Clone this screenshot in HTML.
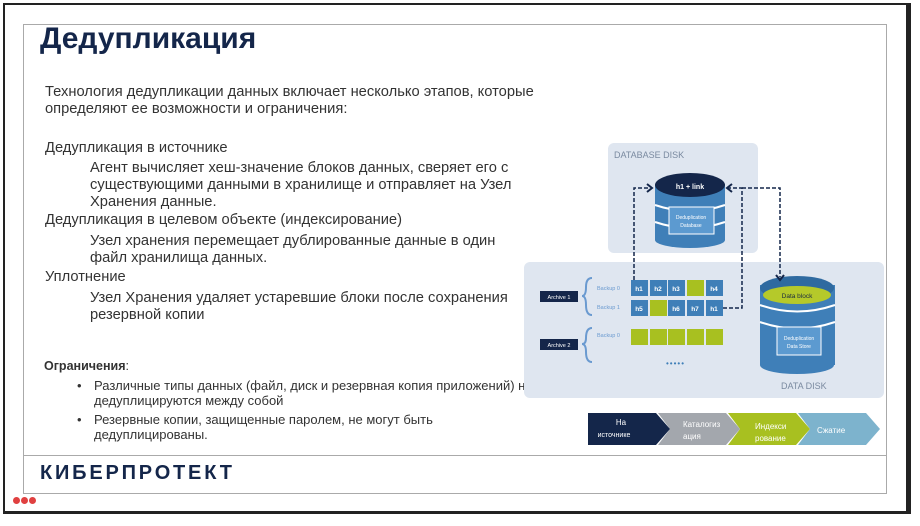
<!DOCTYPE html>
<html><head><meta charset="utf-8"><style>
body{margin:0;background:#fff;width:920px;height:526px;overflow:hidden;position:relative;font-family:"Liberation Sans",Arial,sans-serif;}
.t{position:absolute;white-space:nowrap;color:#333;font-size:14.7px;}
</style></head><body>
<div style="position:absolute;left:3px;top:3px;height:511px;border:2px solid #222;border-right:5px solid #222;border-bottom:3px solid #222;box-sizing:border-box;width:908px;"></div>
<div style="position:absolute;left:23px;top:24px;width:864px;height:470px;border:1px solid #aaa;box-sizing:border-box;"></div>
<div style="position:absolute;left:23px;top:455px;width:864px;height:1px;background:#aaa;"></div>
<div class="t" style="left:40px;top:22px;font-size:30px;font-weight:bold;color:#14264a;">Дедупликация</div>
<div class="t" style="left:45px;top:84px;">Технология дедупликации данных включает несколько этапов, которые</div>
<div class="t" style="left:45px;top:101px;">определяют ее возможности и ограничения:</div>
<div class="t" style="left:45px;top:140px;">Дедупликация в источнике</div>
<div class="t" style="left:90px;top:160px;">Агент вычисляет хеш-значение блоков данных, сверяет его с</div>
<div class="t" style="left:90px;top:177px;">существующими данными в хранилище и отправляет на Узел</div>
<div class="t" style="left:90px;top:194px;">Хранения данные.</div>
<div class="t" style="left:45px;top:212px;">Дедупликация в целевом объекте (индексирование)</div>
<div class="t" style="left:90px;top:233px;">Узел хранения перемещает дублированные данные в один</div>
<div class="t" style="left:90px;top:250px;">файл хранилища данных.</div>
<div class="t" style="left:45px;top:269px;">Уплотнение</div>
<div class="t" style="left:90px;top:290px;">Узел Хранения удаляет устаревшие блоки после сохранения</div>
<div class="t" style="left:90px;top:307px;">резервной копии</div>
<div class="t" style="left:44px;top:359px;font-size:12.5px;"><b>Ограничения</b>:</div>
<div class="t" style="left:77px;top:378px;font-size:13px;">•</div>
<div class="t" style="left:94px;top:378px;font-size:13px;">Различные типы данных (файл, диск и резервная копия приложений) не</div>
<div class="t" style="left:94px;top:393px;font-size:13px;">дедуплицируются между собой</div>
<div class="t" style="left:77px;top:412px;font-size:13px;">•</div>
<div class="t" style="left:94px;top:412px;font-size:13px;">Резервные копии, защищенные паролем, не могут быть</div>
<div class="t" style="left:94px;top:427px;font-size:13px;">дедуплицированы.</div>
<div class="t" style="left:40px;top:462px;font-size:20px;font-weight:900;color:#14264a;letter-spacing:2.8px;">КИБЕРПРОТЕКТ</div>
<div style="position:absolute;left:13px;top:497px;width:7px;height:7px;border-radius:50%;background:#e04040;"></div>
<div style="position:absolute;left:21px;top:497px;width:7px;height:7px;border-radius:50%;background:#e04040;"></div>
<div style="position:absolute;left:29px;top:497px;width:7px;height:7px;border-radius:50%;background:#e04040;"></div>
<svg style="position:absolute;left:0;top:0" width="920" height="526" font-family="Liberation Sans, Arial, sans-serif">
<rect x="608" y="143" width="150" height="110" rx="6" fill="#dfe6f0"/>
<text x="614" y="158" font-size="9" fill="#7a8aa0">DATABASE DISK</text>
<rect x="524" y="262" width="360" height="136" rx="6" fill="#dfe6f0"/>
<text x="781" y="389" font-size="9" fill="#7a8aa0">DATA DISK</text>
<rect x="655" y="185" width="70" height="55" fill="#3f7fb8"/>
<ellipse cx="690" cy="240" rx="35" ry="8" fill="#3f7fb8"/>
<path d="M655 205 Q690 217 725 205 M655 222 Q690 234 725 222" stroke="#fff" stroke-width="2" fill="none"/>
<ellipse cx="690" cy="185" rx="35" ry="12" fill="#14264a"/>
<text x="690" y="189" font-size="7" fill="#fff" text-anchor="middle" font-weight="bold">h1 + link</text>
<rect x="669" y="207" width="45" height="27" fill="#5c9ad0" stroke="#fff"/>
<text x="691" y="219" font-size="5" fill="#fff" text-anchor="middle">Deduplication</text>
<text x="691" y="227" font-size="5" fill="#fff" text-anchor="middle">Database</text>
<rect x="760" y="285" width="75" height="80" fill="#3f7fb8"/>
<ellipse cx="797" cy="365" rx="37" ry="9" fill="#3f7fb8"/>
<path d="M760 305 Q797 318 835 305 M760 322 Q797 335 835 322" stroke="#fff" stroke-width="2" fill="none"/>
<ellipse cx="797" cy="288" rx="37" ry="12" fill="#2f6aa0"/>
<ellipse cx="797" cy="295" rx="34" ry="9" fill="#b5c92a"/>
<text x="797" y="298" font-size="6.5" fill="#1a2a40" text-anchor="middle">Data block</text>
<rect x="777" y="327" width="44" height="28" fill="#5c9ad0" stroke="#fff"/>
<text x="799" y="340" font-size="5" fill="#fff" text-anchor="middle">Deduplication</text>
<text x="799" y="348" font-size="5" fill="#fff" text-anchor="middle">Data Store</text>
<g font-size="6.5" fill="#fff" text-anchor="middle" font-weight="bold">
<rect x="631" y="280" width="17" height="16" fill="#3f7fb8"/><text x="639" y="291">h1</text>
<rect x="650" y="280" width="17" height="16" fill="#3f7fb8"/><text x="658" y="291">h2</text>
<rect x="668" y="280" width="17" height="16" fill="#3f7fb8"/><text x="676" y="291">h3</text>
<rect x="687" y="280" width="17" height="16" fill="#a8c020"/>
<rect x="706" y="280" width="17" height="16" fill="#3f7fb8"/><text x="714" y="291">h4</text>
<rect x="631" y="300" width="17" height="16" fill="#3f7fb8"/><text x="639" y="311">h5</text>
<rect x="650" y="300" width="17" height="16" fill="#a8c020"/>
<rect x="668" y="300" width="17" height="16" fill="#3f7fb8"/><text x="676" y="311">h6</text>
<rect x="687" y="300" width="17" height="16" fill="#3f7fb8"/><text x="695" y="311">h7</text>
<rect x="706" y="300" width="17" height="16" fill="#3f7fb8"/><text x="714" y="311">h1</text>
<rect x="631" y="329" width="17" height="16" fill="#a8c020"/>
<rect x="650" y="329" width="17" height="16" fill="#a8c020"/>
<rect x="668" y="329" width="17" height="16" fill="#a8c020"/>
<rect x="687" y="329" width="17" height="16" fill="#a8c020"/>
<rect x="706" y="329" width="17" height="16" fill="#a8c020"/>
</g>
<text x="666" y="366" font-size="8" fill="#3f7fb8" letter-spacing="1">•••••</text>
<rect x="540" y="291" width="38" height="11" fill="#14264a"/><text x="559" y="299" font-size="5.5" fill="#fff" text-anchor="middle">Archive 1</text>
<rect x="540" y="339" width="38" height="11" fill="#14264a"/><text x="559" y="347" font-size="5.5" fill="#fff" text-anchor="middle">Archive 2</text>
<path d="M592 278 Q586 278 586 287 Q586 296 582 296 Q586 296 586 305 Q586 315 592 315 M592 328 Q586 328 586 338 Q586 344 582 344 Q586 344 586 352 Q586 362 592 362" stroke="#6a9ad0" stroke-width="2" fill="none"/>
<g font-size="5.5" fill="#6a9ad0"><text x="597" y="290">Backup 0</text><text x="597" y="309">Backup 1</text><text x="597" y="337">Backup 0</text></g>
<g stroke="#14264a" stroke-width="1.5" stroke-dasharray="4,2" fill="none">
<path d="M634 280 V188 H650"/>
<path d="M723 308 H742 V188 H728"/>
<path d="M742 188 H780 V277"/>
</g>
<path d="M647 184 L652 188 L647 192" stroke="#14264a" stroke-width="2" fill="none"/>
<path d="M732 184 L727 188 L732 192" stroke="#14264a" stroke-width="2" fill="none"/>
<path d="M776 275 L780 280 L784 275" stroke="#14264a" stroke-width="2" fill="none"/>
<polygon points="798,413 866,413 880,429 866,445 798,445 810,429" fill="#7db3cd"/>
<polygon points="728,413 796,413 810,429 796,445 728,445 740,429" fill="#a8c020"/>
<polygon points="658,413 726,413 740,429 726,445 658,445 670,429" fill="#a3a7ad"/>
<polygon points="588,413 656,413 670,429 656,445 588,445" fill="#14264a"/>
<g font-size="8" fill="#fff">
<text x="621" y="425" text-anchor="middle">На</text><text x="614" y="437" font-size="7" text-anchor="middle">источнике</text>
<text x="683" y="427">Каталогиз</text><text x="683" y="439">ация</text>
<text x="755" y="429">Индекси</text><text x="755" y="441">рование</text>
<text x="817" y="433">Сжатие</text>
</g>
</svg>
</body></html>
